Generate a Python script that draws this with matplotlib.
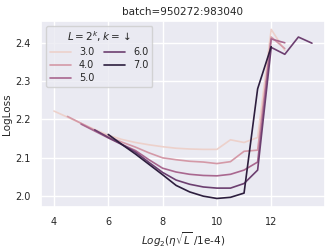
import pandas as pd
import seaborn as sns
import matplotlib.pyplot as plt

sns.set_theme(style='darkgrid')
plt.rcParams['font.size'] = 7
plt.rcParams['axes.labelsize'] = 7.5
plt.rcParams['axes.titlesize'] = 7.5
plt.rcParams['xtick.labelsize'] = 7
plt.rcParams['ytick.labelsize'] = 7
plt.rcParams['xtick.major.pad'] = 1.5
plt.rcParams['ytick.major.pad'] = 1.5
plt.rcParams['legend.fontsize'] = 7
plt.rcParams['legend.title_fontsize'] = 7.5

x3 = [4.0, 4.5, 5.0, 5.5, 6.0, 6.5, 7.0, 7.5, 8.0, 8.5, 9.0, 9.5, 10.0, 10.5, 11.0, 11.5, 12.0, 12.5]
y3 = [2.222, 2.206, 2.190, 2.174, 2.159, 2.148, 2.140, 2.134, 2.129, 2.125, 2.123, 2.122, 2.122, 2.147, 2.140, 2.153, 2.435, 2.380]
x4 = [4.5, 5.0, 5.5, 6.0, 6.5, 7.0, 7.5, 8.0, 8.5, 9.0, 9.5, 10.0, 10.5, 11.0, 11.5, 12.0, 12.5]
y4 = [2.208, 2.190, 2.172, 2.155, 2.141, 2.128, 2.113, 2.100, 2.095, 2.091, 2.089, 2.085, 2.090, 2.117, 2.120, 2.415, 2.385]
x5 = [5.0, 5.5, 6.0, 6.5, 7.0, 7.5, 8.0, 8.5, 9.0, 9.5, 10.0, 10.5, 11.0, 11.5, 12.0, 12.5]
y5 = [2.188, 2.170, 2.152, 2.135, 2.119, 2.095, 2.073, 2.063, 2.057, 2.054, 2.053, 2.057, 2.068, 2.089, 2.410, 2.400]
x6 = [5.5, 6.0, 6.5, 7.0, 7.5, 8.0, 8.5, 9.0, 9.5, 10.0, 10.5, 11.0, 11.5, 12.0, 12.5, 13.0, 13.5]
y6 = [2.173, 2.153, 2.135, 2.115, 2.088, 2.062, 2.042, 2.031, 2.024, 2.021, 2.021, 2.033, 2.068, 2.388, 2.370, 2.415, 2.399]
x7 = [6.0, 6.5, 7.0, 7.5, 8.0, 8.5, 9.0, 9.5, 10.0, 10.5, 11.0, 11.5, 12.0]
y7 = [2.161, 2.135, 2.110, 2.083, 2.056, 2.028, 2.011, 2.000, 1.994, 1.997, 2.008, 2.280, 2.390]

ks = [3.0, 4.0, 5.0, 6.0, 7.0]
xs = [x3, x4, x5, x6, x7]
ys = [y3, y4, y5, y6, y7]

rows = []
for k, xv, yv in zip(ks, xs, ys):
    for a, b in zip(xv, yv):
        rows.append({'lr': a, 'loss': b, 'k': k})
df = pd.DataFrame(rows)

fig = plt.figure(figsize=(3.32, 2.49), dpi=100)
ax = fig.add_axes([0.1235, 0.169, 0.855, 0.747])
sns.lineplot(data=df, x='lr', y='loss', hue='k', legend='full', ax=ax, linewidth=1.2)
ax.set_title('batch=950272:983040', pad=4)
ax.set_xlabel(r'$Log_2(\eta\sqrt{L}$ /1e-4)', labelpad=2)
ax.set_ylabel('LogLoss', labelpad=2)
ax.set_xticks([4, 6, 8, 10, 12])
ax.set_yticks([2.0, 2.1, 2.2, 2.3, 2.4])
ax.legend(title=r'$L=2^k, k=\downarrow$', ncol=2, loc='upper left',
          handlelength=2.2, columnspacing=1.0, labelspacing=0.3, borderpad=0.4)
fig.savefig('out.png', dpi=100)
